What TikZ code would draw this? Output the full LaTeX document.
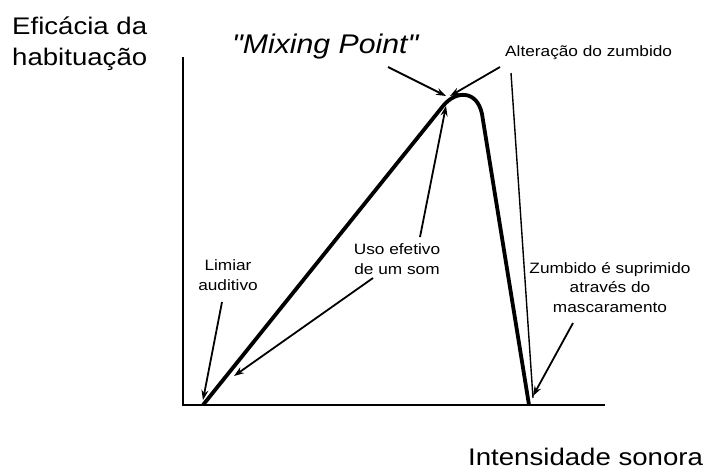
\documentclass[tikz,border=0pt]{standalone}
\usepackage{fontspec}
\setmainfont{Liberation Sans}[FakeStretch=1.15]
\newfontfamily\mixfont{Liberation Sans}[FakeStretch=1.12, Ligatures=TeXOff]
\usetikzlibrary{arrows.meta}
\begin{document}
\begin{tikzpicture}[x=1pt,y=-1pt,
  lbl/.style={inner sep=0pt, align=center, font=\fontsize{15}{19.5}\selectfont},
  big/.style={inner sep=0pt, align=left, font=\fontsize{24}{31}\selectfont},
  axis/.style={line width=2.5pt},
  curve/.style={line width=3.8pt, line join=round},
  thin/.style={line width=1.4pt},
  arr/.style={line width=1.8pt, -{Stealth[length=10pt,width=7pt]}},
]
\useasboundingbox[fill=white] (0,0) rectangle (703,471);
% axes
\coordinate (ytop) at (183,57);
\coordinate (orig) at (183,405);
\coordinate (xend) at (605,405);
\draw[axis] (ytop) -- (orig) -- (xend);
% curve
\coordinate (c0) at (203,405);
\coordinate (c1) at (443,106);
\coordinate (c2) at (482,114);
\coordinate (c3) at (529,405);
\draw[curve] (c0) -- (c1) .. controls (456,90) and (477,90) .. (c2) -- (c3);
% labels
\node[big, anchor=base west] (ylab) at (12,65) {Eficácia da\\habituação};
\node[inner sep=0pt, anchor=base west, font=\fontsize{24}{28}\selectfont] (xlab) at (468,465) {Intensidade sonora};
\node[inner sep=0pt, anchor=base west, font=\mixfont\fontsize{27}{30}\selectfont\itshape] (mix) at (232,53) {"Mixing Point"};
\node[lbl, anchor=base west] (alt) at (505,56) {Alteração do zumbido};
\node[lbl, anchor=base] (uso) at (397,274) {Uso efetivo\\de um som};
\node[lbl, anchor=base] (lim) at (228,290) {Limiar\\auditivo};
\node[lbl, anchor=base] (zum) at (610,312) {Zumbido é suprimido\\através do\\mascaramento};
% arrows
\coordinate (m0) at (388,67);   \coordinate (m1) at (446,96);
\coordinate (a0) at (500,67);   \coordinate (a1) at (450,96);
\coordinate (t0) at (511,73);   \coordinate (t1) at (533,398);
\coordinate (u0) at (420,237);  \coordinate (u1) at (446,106);
\coordinate (v0) at (373,278);  \coordinate (v1) at (234,376);
\coordinate (l0) at (222,302);  \coordinate (l1) at (203,400);
\coordinate (k0) at (573,323);  \coordinate (k1) at (533,396);
\draw[arr] (m0) -- (m1);
\draw[arr] (a0) -- (a1);
\draw[thin] (t0) -- (t1);
\draw[arr] (u0) -- (u1);
\draw[arr] (v0) -- (v1);
\draw[arr] (l0) -- (l1);
\draw[arr] (k0) -- (k1);
\end{tikzpicture}
\end{document}
